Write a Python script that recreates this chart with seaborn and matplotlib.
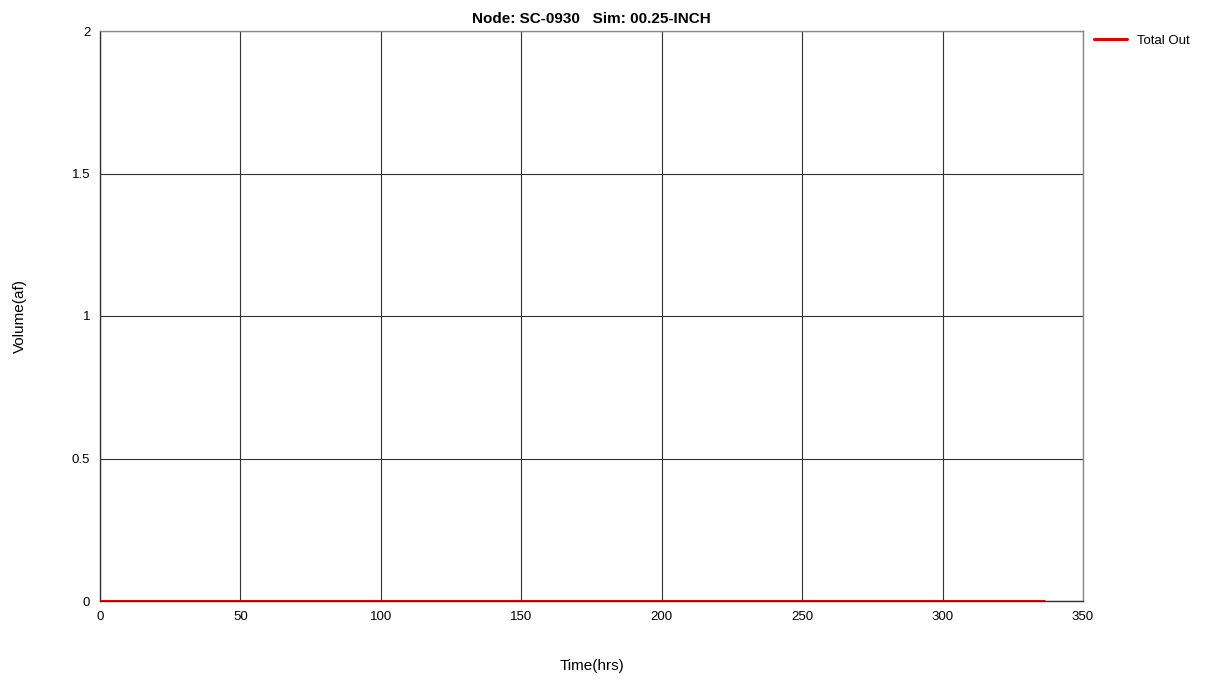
import matplotlib
matplotlib.use("Agg")
import matplotlib.pyplot as plt
import seaborn as sns
import pandas as pd

# Node SC-0930 outflow volume, 00.25-INCH simulation
time_hrs = [0, 336]
total_out = [0.0, 0.0]

x_ticks = [0, 50, 100, 150, 200, 250, 300, 350]
y_ticks = [0, 0.5, 1, 1.5, 2]
y_tick_labels = ["0", "0.5", "1", "1.5", "2"]

df = pd.DataFrame({"Time(hrs)": time_hrs, "Total Out": total_out})

sns.set_theme(style="white")
plt.rcParams["font.family"] = ["Liberation Sans", "DejaVu Sans"]
plt.rcParams["text.color"] = "black"
plt.rcParams["axes.labelcolor"] = "black"

fig = plt.figure(figsize=(12.06, 6.79), dpi=100)
ax = fig.add_axes([100 / 1206, 1 - 601 / 679, 983 / 1206, 570 / 679])

sns.lineplot(data=df, x="Time(hrs)", y="Total Out", ax=ax, color="#e00000",
             linewidth=2.2, label="Total Out", legend=False, zorder=3)

ax.set_xlim(0, 350)
ax.set_ylim(0, 2)
ax.set_xticks(x_ticks)
ax.set_yticks(y_ticks)
ax.set_yticklabels(y_tick_labels)
ax.grid(True, color="#333333", linewidth=0.8)
ax.tick_params(axis="both", labelsize=9.5, length=0, pad=7, colors="black")

for side, spine in ax.spines.items():
    spine.set_color("#333333" if side in ("left", "bottom") else "#888888")
    spine.set_linewidth(1.0)

ax.set_title("Node: SC-0930   Sim: 00.25-INCH", fontsize=11, fontweight="bold",
             pad=6, color="black")
ax.set_xlabel("Time(hrs)", fontsize=11, labelpad=26)
ax.set_ylabel("Volume(af)", fontsize=11, labelpad=32)

ax.legend(loc="upper left", bbox_to_anchor=(0.999, 1.015), frameon=False,
          fontsize=9.5, handlelength=2.5, handletextpad=0.8)

fig.savefig("out.png", dpi=100)
